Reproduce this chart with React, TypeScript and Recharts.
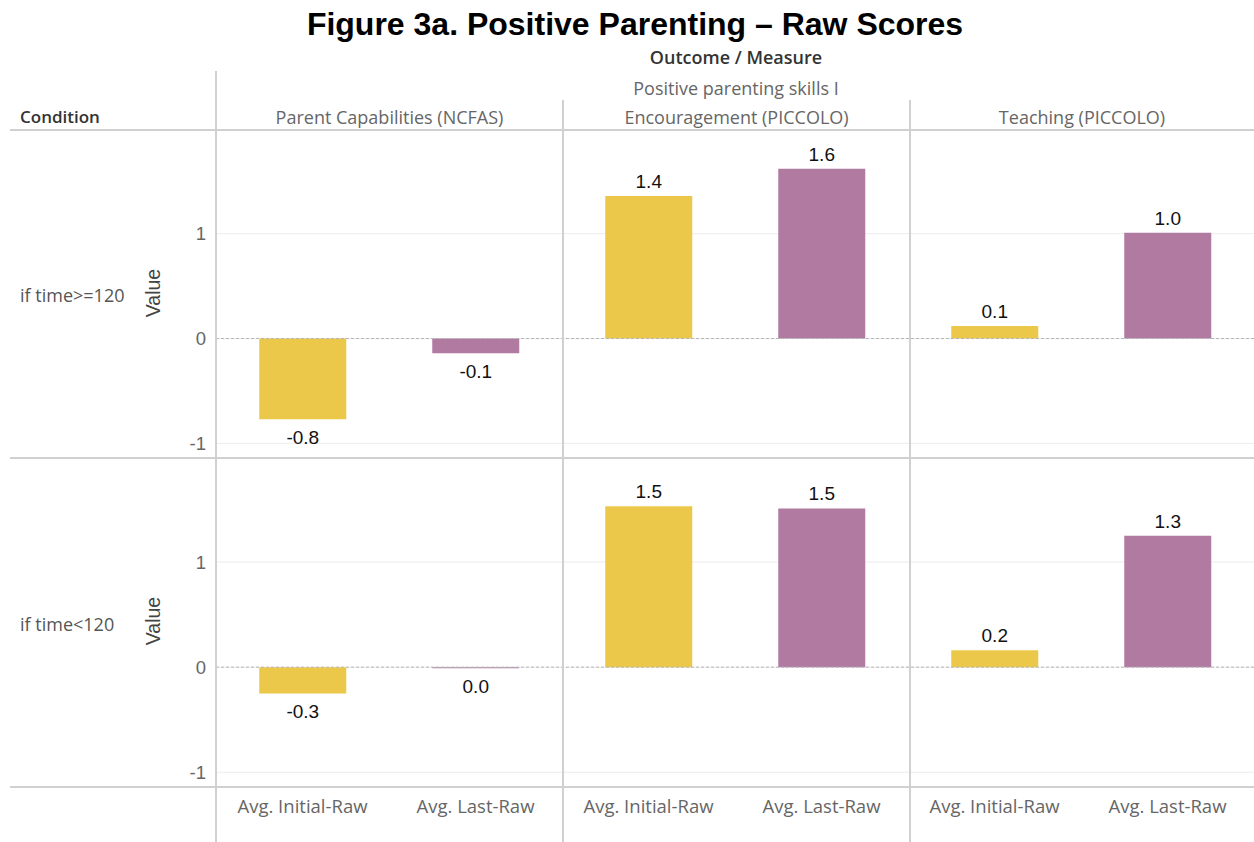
import { BarChart, Bar, XAxis, YAxis, CartesianGrid, ReferenceLine, Cell, LabelList } from "recharts"

const measures = ["Parent Capabilities (NCFAS)", "Encouragement (PICCOLO)", "Teaching (PICCOLO)"]
const stats = ["Avg. Initial-Raw", "Avg. Last-Raw"]
const conditions = ["if time>=120", "if time<120"]

// values per measure, in the order of `measures`
const geInitial = [-0.77, 1.36, 0.12]
const geLast = [-0.14, 1.62, 1.01]
const ltInitial = [-0.25, 1.53, 0.16]
const ltLast = [-0.01, 1.51, 1.25]

const yTicks = [-1, 0, 1]
const colors = ["#ebc84a", "#b07aa1"]

const font = "'Open Sans', sans-serif"
const arial = "'Liberation Sans', Arial, sans-serif"

function buildRow(initial: number[], last: number[]) {
  const rows: { key: string; stat: number; value: number }[] = []
  measures.forEach((m, i) => {
    rows.push({ key: m + "|" + stats[0], stat: 0, value: initial[i] })
    rows.push({ key: m + "|" + stats[1], stat: 1, value: last[i] })
  })
  return rows
}

const rowData = [buildRow(geInitial, geLast), buildRow(ltInitial, ltLast)]

const fmt = (v: number) => (Math.abs(v) < 0.05 ? "0.0" : v.toFixed(1))

function ValueLabel(props: any) {
  const { x, y, width, height, value } = props
  const top = Math.min(y, y + height)
  const bottom = Math.max(y, y + height)
  const cx = x + width / 2
  const ty = value >= 0 ? top - 8 : bottom + 25
  return (
    <text x={cx} y={ty} textAnchor="middle" fontSize={19} fill="#111" fontFamily={arial}>
      {fmt(value)}
    </text>
  )
}

function Row({ data, showX }: { data: any[]; showX: boolean }) {
  return (
    <BarChart
      width={1254}
      height={showX ? 384 : 328}
      data={data}
      margin={{ top: 0, right: 0, left: 0, bottom: 0 }}
      barCategoryGap="25%"
    >
      <CartesianGrid vertical={false} stroke="#ececec" />
      <XAxis
        dataKey="key"
        hide={!showX}
        height={55}
        axisLine={false}
        tickLine={false}
        interval={0}
        tickFormatter={(k: string) => k.split("|")[1]}
        tick={{ fontSize: 18.5, fill: "#666", fontFamily: font }}
        tickMargin={7}
      />
      <YAxis
        width={216}
        domain={[-1.14, 1.99]}
        ticks={yTicks}
        axisLine={false}
        tickLine={false}
        tickMargin={4}
        tick={{ fontSize: 18.5, fill: "#666", fontFamily: arial }}
      />
      <ReferenceLine y={0} stroke="#b5b5b5" strokeDasharray="3 2" />
      <Bar dataKey="value" isAnimationActive={false}>
        {data.map((d, i) => (
          <Cell key={i} fill={colors[d.stat]} />
        ))}
        <LabelList dataKey="value" content={ValueLabel} />
      </Bar>
    </BarChart>
  )
}

const txt = (style: any) => ({ position: "absolute" as const, fontFamily: font, fontSize: 18, color: "#666", whiteSpace: "nowrap" as const, lineHeight: "24px", ...style })

export default function App() {
  const colX = [216, 563, 910, 1254]
  return (
    <div style={{ position: "absolute", left: 0, top: 0, width: 1254, height: 842, background: "#fff" }}>
      <div style={{ position: "absolute", left: 0, top: 6, width: 1270, textAlign: "center", fontFamily: arial, fontWeight: "bold", fontSize: 32, color: "#000" }}>
        Figure 3a. Positive Parenting – Raw Scores
      </div>
      <div style={txt({ left: 216, width: 1040, top: 45, textAlign: "center", fontWeight: 600, color: "#333" })}>Outcome / Measure</div>
      <div style={txt({ left: 216, width: 1040, top: 76, textAlign: "center" })}>Positive parenting skills I</div>
      {measures.map((m, i) => (
        <div key={m} style={txt({ left: colX[i], width: colX[i + 1] - colX[i], top: 105, textAlign: "center" })}>{m}</div>
      ))}
      <div style={txt({ left: 20, top: 105, fontWeight: 600, color: "#333", fontSize: 17 })}>Condition</div>
      {conditions.map((c, i) => (
        <div key={c} style={txt({ left: 20, top: i === 0 ? 283 : 612, color: "#555" })}>{c}</div>
      ))}
      {[293, 621].map((cy) => (
        <div key={cy} style={txt({ left: 153 - 30, top: cy - 12, width: 60, textAlign: "center", transform: "rotate(-90deg)", color: "#444", fontSize: 19.5, fontFamily: arial })}>Value</div>
      ))}
      <div style={{ position: "absolute", left: 0, top: 130 }}>
        <Row data={rowData[0]} showX={false} />
      </div>
      <div style={{ position: "absolute", left: 0, top: 458 }}>
        <Row data={rowData[1]} showX={true} />
      </div>
      <svg width={1254} height={842} style={{ position: "absolute", left: 0, top: 0, pointerEvents: "none" }}>
        <line x1={10} x2={1254} y1={130} y2={130} stroke="#d0d0d0" strokeWidth={2} />
        <line x1={10} x2={1254} y1={458} y2={458} stroke="#d0d0d0" strokeWidth={2} />
        <line x1={10} x2={1254} y1={787} y2={787} stroke="#d0d0d0" strokeWidth={2} />
        <line x1={216} x2={216} y1={71} y2={842} stroke="#d0d0d0" strokeWidth={2} />
        <line x1={563} x2={563} y1={100} y2={842} stroke="#d0d0d0" strokeWidth={2} />
        <line x1={910} x2={910} y1={100} y2={842} stroke="#d0d0d0" strokeWidth={2} />
      </svg>
    </div>
  )
}
